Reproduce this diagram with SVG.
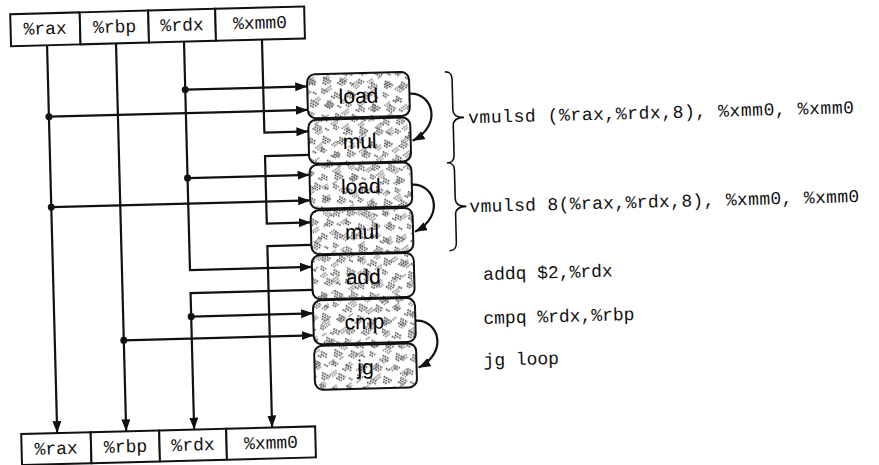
<svg xmlns="http://www.w3.org/2000/svg" width="879" height="465" viewBox="0 0 879 465">
<style>
 .reg rect {fill:#fff; stroke:#111; stroke-width:2}
 .reg text, .asm {font-family:"Liberation Mono","DejaVu Sans Mono",monospace; font-size:18px; fill:#111}
 .reg text {text-anchor:middle}
 .node .a {fill:url(#texA)}
 .node .b {fill:url(#texB); stroke:#111; stroke-width:2}
 .node text {font-family:"Liberation Sans",Arial,sans-serif; font-size:21px; text-anchor:middle; fill:#000}
 .wire {fill:none; stroke:#111; stroke-width:2.2}
 .arr {marker-end:url(#ah)}
 .dot {fill:#111}
 .brace {fill:none; stroke:#111; stroke-width:1.6}
</style>
<defs>
 <marker id="ah" markerWidth="13" markerHeight="10" refX="12" refY="4.5" orient="auto" markerUnits="userSpaceOnUse">
  <path d="M0,0 L12,4.5 L0,9 Z" fill="#111"/>
 </marker>
 <pattern id="texA" width="28" height="26" patternUnits="userSpaceOnUse" patternTransform="rotate(30)">
  <rect width="28" height="26" fill="#fff"/>
  <g fill="none" stroke="#2a2a2a" stroke-width="1.5" stroke-dasharray="1.5 1">
   <path d="M2 2h8M3 4.5h7M2 7h6"/>
   <path d="M15 9h9M16 11.5h8M17 14h5"/>
   <path d="M4 17h7M5 19.5h7M3 22h5"/>
   <path d="M19 20h6M20 22.5h5"/>
   <path d="M13 1h4"/>
  </g>
 </pattern>
 <pattern id="texB" width="33" height="29" patternUnits="userSpaceOnUse" patternTransform="rotate(-35)">
  <g fill="none" stroke="#555" stroke-width="1.4" stroke-dasharray="1.2 1">
   <path d="M3 5h7M4 7.5h6"/>
   <path d="M18 3h8M19 5.5h6"/>
   <path d="M9 15h9M10 17.5h7M11 20h5"/>
   <path d="M24 22h7M25 24.5h5"/>
   <path d="M2 25h5"/>
  </g>
 </pattern>
</defs>
<g transform="rotate(-1.5 250 232)">
 <g id="top-registers" class="reg">
  <g id="top-rax"><rect x="16" y="8" width="69.5" height="32"/><text x="50.5" y="29">%rax</text></g>
  <g id="top-rbp"><rect x="85.5" y="8" width="68.5" height="32"/><text x="120" y="29">%rbp</text></g>
  <g id="top-rdx"><rect x="154" y="8" width="67" height="32"/><text x="187.5" y="29">%rdx</text></g>
  <g id="top-xmm0"><rect x="221" y="8" width="89" height="32"/><text x="265.5" y="29">%xmm0</text></g>
 </g>
 <g id="bottom-registers" class="reg">
  <g id="bot-rax"><rect x="16" y="428" width="69.5" height="31"/><text x="50.5" y="449">%rax</text></g>
  <g id="bot-rbp"><rect x="85.5" y="428" width="68.5" height="31"/><text x="120" y="449">%rbp</text></g>
  <g id="bot-rdx"><rect x="154" y="428" width="67" height="31"/><text x="187.5" y="449">%rdx</text></g>
  <g id="bot-xmm0"><rect x="221" y="428" width="89" height="31"/><text x="265.5" y="449">%xmm0</text></g>
 </g>
 <g id="load1" class="node"><rect class="a" x="311" y="76" width="102" height="44" rx="8"/><rect class="b" x="311" y="76" width="102" height="44" rx="8"/><text x="362" y="106">load</text></g>
 <g id="mul1" class="node"><rect class="a" x="311" y="121.5" width="102" height="44" rx="8"/><rect class="b" x="311" y="121.5" width="102" height="44" rx="8"/><text x="362" y="151.5">mul</text></g>
 <g id="load2" class="node"><rect class="a" x="311" y="166.5" width="102" height="44" rx="8"/><rect class="b" x="311" y="166.5" width="102" height="44" rx="8"/><text x="362" y="196.5">load</text></g>
 <g id="mul2" class="node"><rect class="a" x="311" y="212" width="102" height="44" rx="8"/><rect class="b" x="311" y="212" width="102" height="44" rx="8"/><text x="362" y="242">mul</text></g>
 <g id="add" class="node"><rect class="a" x="311" y="257" width="102" height="44" rx="8"/><rect class="b" x="311" y="257" width="102" height="44" rx="8"/><text x="362" y="287">add</text></g>
 <g id="cmp" class="node"><rect class="a" x="311" y="302" width="102" height="44" rx="8"/><rect class="b" x="311" y="302" width="102" height="44" rx="8"/><text x="362" y="332">cmp</text></g>
 <g id="jg" class="node"><rect class="a" x="311" y="347.5" width="102" height="44" rx="8"/><rect class="b" x="311" y="347.5" width="102" height="44" rx="8"/><text x="362" y="377.5">jg</text></g>
 <g id="connectors">
  <path class="wire arr" d="M52,40 V428"/>
  <path class="wire arr" d="M121,40 V428"/>
  <path class="wire arr" d="M189,40 V268.5 H311"/>
  <path class="wire arr" d="M267,40 V133 H311"/>
  <path class="wire arr" d="M189,88 H311"/>
  <path class="wire arr" d="M52,111.5 H311"/>
  <path class="wire arr" d="M189,176.5 H311"/>
  <path class="wire arr" d="M52,202 H311"/>
  <path class="wire arr" d="M311,156.5 H267 V224 H311"/>
  <path class="wire arr" d="M311,246.5 H267 V428"/>
  <path class="wire arr" d="M311,291.5 H189 V428"/>
  <path class="wire arr" d="M189,315 H311"/>
  <path class="wire arr" d="M121,337 H311"/>
  <path class="wire arr" d="M413,98 C436,97 446,130 415,145"/>
  <path class="wire arr" d="M413,189 C436,188 446,221 415,236"/>
  <path class="wire arr" d="M413,325 C436,324 446,357 415,372"/>
  <circle class="dot" cx="52" cy="111.5" r="3.5"/>
  <circle class="dot" cx="52" cy="202" r="3.5"/>
  <circle class="dot" cx="189" cy="88" r="3.5"/>
  <circle class="dot" cx="189" cy="176.5" r="3.5"/>
  <circle class="dot" cx="189" cy="315" r="3.5"/>
  <circle class="dot" cx="121" cy="337" r="3.5"/>
 </g>
 <g id="braces">
  <path class="brace" d="M449,77 C454,77 456,79 456,85 L456,115 C456,120 459,123 467,123 C459,123 456,126 456,131 L456,161 C456,166 454,168 449,168"/>
  <path class="brace" d="M449,168 C454,168 456,170 456,176 L456,204 C456,209 459,212 467,212 C459,212 456,215 456,220 L456,248 C456,254 454,256 449,256"/>
 </g>
 <g id="asm-labels">
  <text class="asm" x="471" y="129" textLength="386" lengthAdjust="spacing">vmulsd (%rax,%rdx,8), %xmm0, %xmm0</text>
  <text class="asm" x="470" y="218" textLength="390" lengthAdjust="spacing">vmulsd 8(%rax,%rdx,8), %xmm0, %xmm0</text>
  <text class="asm" x="482" y="286">addq $2,%rdx</text>
  <text class="asm" x="481" y="330">cmpq %rdx,%rbp</text>
  <text class="asm" x="480" y="372">jg loop</text>
 </g>
</g>
</svg>
